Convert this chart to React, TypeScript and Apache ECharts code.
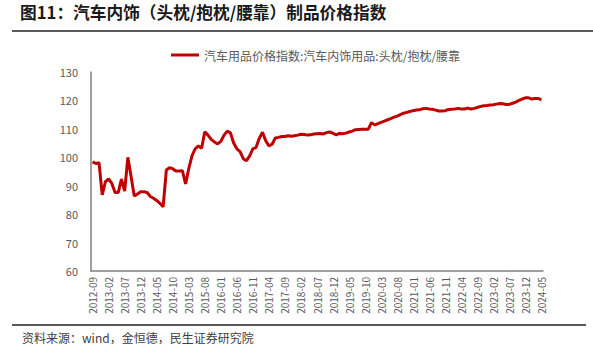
import React, { useEffect, useRef } from "react";
import * as echarts from "echarts";

const startYear = 2012;
const startMonth = 9;
const values: number[] = [
  98.4, 97.8, 98.1, 86.8, 91.4, 92.4, 90.8, 87.6, 87.6, 92.3,
  88.1, 100.0, 93.2, 86.4, 87.1, 87.9, 87.9, 87.6, 86.2, 85.6,
  84.8, 83.8, 82.6, 95.5, 96.3, 96.0, 95.2, 95.2, 95.3, 90.6,
  96.0, 100.5, 103.0, 104.0, 103.2, 109.0, 107.8, 106.3, 105.4, 104.7,
  105.6, 107.8, 109.2, 108.6, 105.0, 103.0, 102.0, 99.5, 98.8, 100.5,
  103.0, 103.5, 106.7, 108.8, 105.8, 104.0, 104.6, 106.8, 107.0, 107.3,
  107.3, 107.6, 107.4, 107.6, 107.8, 108.1, 108.0, 107.8, 107.9, 108.2,
  108.3, 108.4, 108.2, 108.7, 108.9, 108.4, 107.9, 108.4, 108.3, 108.5,
  108.9, 109.2, 109.7, 109.8, 109.9, 109.9, 109.9, 112.2, 111.4, 111.8,
  112.3, 112.7, 113.2, 113.6, 114.1, 114.5, 115.0, 115.5, 115.8, 116.1,
  116.4, 116.6, 116.7, 117.1, 117.2, 117.0, 116.9, 116.6, 116.3, 116.3,
  116.4, 116.8, 116.9, 117.0, 117.2, 117.0, 117.0, 117.3, 117.0, 117.2,
  117.5, 117.9, 118.1, 118.2, 118.4, 118.5, 118.7, 118.9, 118.8, 118.6,
  118.6, 119.0, 119.4, 120.0, 120.5, 120.9, 120.9, 120.5, 120.7, 120.7,
  120.2,
];

const categories: string[] = values.map((_, i) => {
  const m0 = startMonth - 1 + i;
  const y = startYear + Math.floor(m0 / 12);
  const m = (m0 % 12) + 1;
  return `${y}-${m < 10 ? "0" + m : m}`;
});

const yTicks = { min: 60, max: 130, interval: 10 };
const titleText = "图11：汽车内饰（头枕/抱枕/腰靠）制品价格指数";
const seriesName = "汽车用品价格指数:汽车内饰用品:头枕/抱枕/腰靠";
const sourceText = "资料来源：wind，金恒德，民生证券研究院";

export default function App() {
  const ref = useRef<HTMLDivElement>(null);
  useEffect(() => {
    if (!ref.current) return;
    const chart = echarts.init(ref.current, null, { renderer: "svg" });
    const font = "'Noto Sans CJK SC', 'Microsoft YaHei', sans-serif";
    chart.setOption({
      animation: false,
      textStyle: { fontFamily: font },
      grid: { left: 91, right: 50, top: 72, bottom: 81, containLabel: false },
      legend: {
        show: true,
        top: 44,
        left: 166,
        itemWidth: 28,
        itemHeight: 3,
        icon: "rect",
        itemGap: 4,
        textStyle: { color: "#595959", fontSize: 12, fontFamily: font },
        data: [seriesName],
      },
      xAxis: {
        type: "category",
        data: categories,
        boundaryGap: true,
        axisLine: { show: true, lineStyle: { color: "#7f7f7f", width: 1.5 } },
        axisTick: { show: false },
        axisLabel: {
          interval: 4,
          rotate: 90,
          color: "#595959",
          fontSize: 10,
          margin: 6,
          fontFamily: font,
        },
        splitLine: { show: false },
      },
      yAxis: {
        type: "value",
        min: yTicks.min,
        max: yTicks.max,
        interval: yTicks.interval,
        axisLine: { show: true, lineStyle: { color: "#7f7f7f", width: 1.5 } },
        axisTick: { show: false },
        axisLabel: { color: "#595959", fontSize: 11, margin: 13, fontFamily: font },
        splitLine: { show: false },
      },
      series: [
        {
          name: seriesName,
          type: "line",
          data: values,
          showSymbol: false,
          symbol: "none",
          lineStyle: { color: "#C00000", width: 3 },
          itemStyle: { color: "#C00000" },
        },
      ],
      graphic: [
        {
          type: "text",
          left: 20,
          top: 4,
          style: {
            text: titleText,
            fontSize: 16.7,
            fontWeight: "bold",
            fill: "#1a1a1a",
            fontFamily: font,
          },
        },
        {
          type: "line",
          shape: { x1: 12, y1: 31, x2: 593, y2: 31 },
          style: { stroke: "#595959", lineWidth: 2 },
        },
        {
          type: "line",
          shape: { x1: 12, y1: 325, x2: 586, y2: 325 },
          style: { stroke: "#595959", lineWidth: 2 },
        },
        {
          type: "text",
          left: 22,
          top: 331,
          style: {
            text: sourceText,
            fontSize: 12,
            fill: "#404040",
            fontFamily: font,
          },
        },
      ],
    });
    return () => chart.dispose();
  }, []);
  return (
    <div
      ref={ref}
      style={{ position: "fixed", left: 0, top: 0, width: 593, height: 352, background: "#fff" }}
    />
  );
}
